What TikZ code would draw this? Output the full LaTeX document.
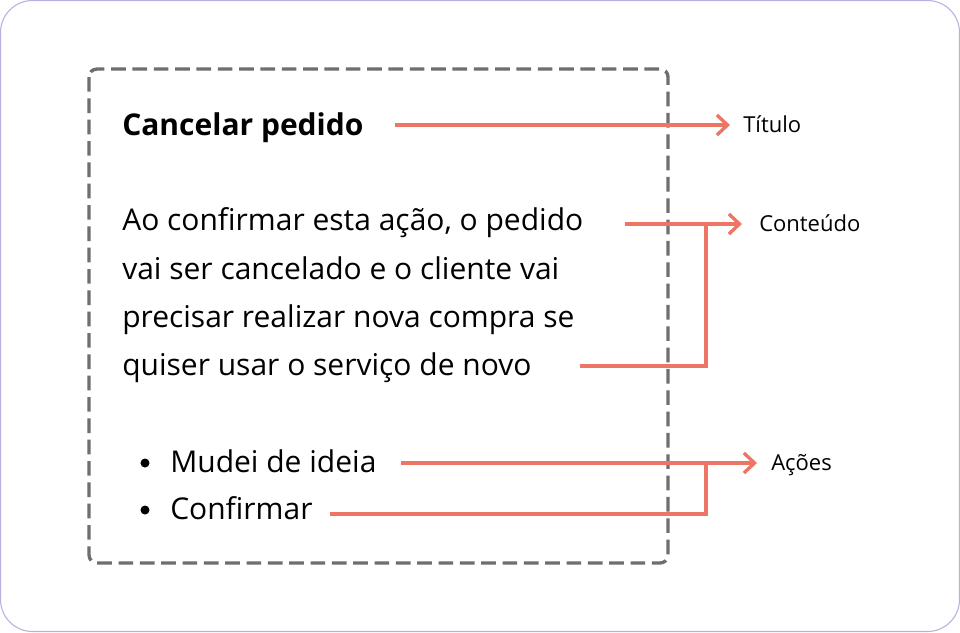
\documentclass[tikz,border=0pt]{standalone}
\usepackage{fontspec}
\setmainfont{Open Sans}
\usetikzlibrary{arrows.meta}
\definecolor{sal}{HTML}{EC7563}
\definecolor{frame}{HTML}{B8B0E0}
\definecolor{dashc}{HTML}{6E6E6E}
\begin{document}
\begin{tikzpicture}[x=0.75pt,y=-0.75pt,
  body/.style={anchor=base west,inner sep=0pt,font=\fontsize{22.5pt}{26pt}\selectfont},
  lab/.style={anchor=base west,inner sep=0pt,font=\fontsize{16.5pt}{19pt}\selectfont},
  arr/.style={draw=sal,line width=2.5pt,-{Straight Barb[length=8pt,width=15pt,line width=2.5pt]}},
  ln/.style={draw=sal,line width=2.5pt}]
\useasboundingbox (0,0) rectangle (960,632);
\draw[frame,line width=0.8pt,fill=white,rounded corners=24] (0.5,0.5) rectangle (959.5,631.5);
\draw[dashc,line width=2.5pt,dash pattern=on 11pt off 5pt,rounded corners=6] (89,69) rectangle (668,563);
\node[body,font=\fontsize{22.5pt}{26pt}\selectfont\bfseries] (t) at (122,135) {Cancelar pedido};
\node[body] (c1) at (122,230) {Ao confirmar esta ação, o pedido};
\node[body] (c2) at (122,279) {vai ser cancelado e o cliente vai};
\node[body] (c3) at (122,327) {precisar realizar nova compra se};
\node[body] (c4) at (122,375) {quiser usar o serviço de novo};
\node[body] (a1) at (170,472) {Mudei de ideia};
\node[body] (a2) at (170,519) {Confirmar};
\fill (145,463) circle (4.5);
\fill (145,510) circle (4.5);
\node[lab] (lt) at (743,132) {Título};
\node[lab] (lc) at (759,231) {Conteúdo};
\node[lab] (la) at (771,470) {Ações};
\coordinate (t0) at (395,125); \coordinate (t1) at (730,125);
\coordinate (c0) at (625,224); \coordinate (cA) at (742,224);
\coordinate (d0) at (580,366); \coordinate (dj) at (706,366); \coordinate (dk) at (706,224);
\coordinate (e0) at (401,463); \coordinate (eA) at (757,463);
\coordinate (f0) at (330,514); \coordinate (fj) at (706,514); \coordinate (fk) at (706,463);
\draw[arr] (t0) -- (t1);
\draw[arr] (c0) -- (cA);
\draw[ln] (d0) -- (dj) -- (dk);
\draw[arr] (e0) -- (eA);
\draw[ln] (f0) -- (fj) -- (fk);
\end{tikzpicture}
\end{document}
